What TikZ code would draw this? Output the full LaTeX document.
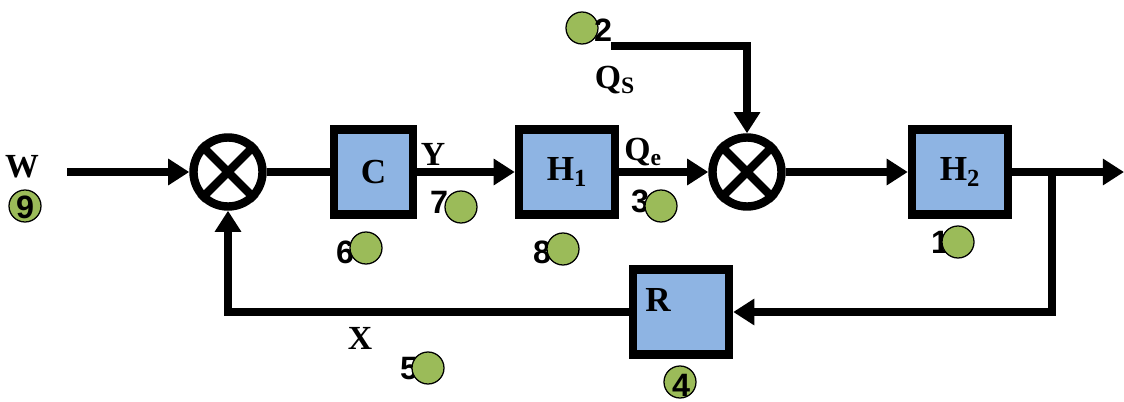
\documentclass[tikz,border=0pt]{standalone}
\usepackage{fontspec}
\setmainfont{Liberation Serif}
\setsansfont{Liberation Sans}
\usetikzlibrary{arrows.meta, positioning, calc}
\definecolor{boxblue}{HTML}{8EB4E3}
\definecolor{dotgreen}{HTML}{9BBB59}

\tikzset{
  block/.style={draw, fill=boxblue, line width=6pt, minimum width=2.4cm, minimum height=2.125cm, inner sep=0pt, font=\fontsize{25}{28}\selectfont\bfseries},
  sumjunc/.style={draw, circle, line width=6pt, minimum size=1.725cm, inner sep=0pt},
  sig/.style={line width=5pt, -{Triangle[length=15pt,width=18pt]}},
  lbl/.style={font=\fontsize{24}{27}\selectfont\bfseries, inner sep=0pt},
  numdot/.style={circle, draw, fill=dotgreen, line width=0.9pt, minimum size=0.8cm, inner sep=0pt},
  numtxt/.style={font=\sffamily\bfseries\fontsize{23}{25}\selectfont, inner sep=0pt},
}

\begin{document}
\begin{tikzpicture}[x=0.025cm, y=-0.025cm]
  \useasboundingbox (0,0) rectangle (1124,401);

  % blocks and summing points
  \node[sumjunc] (sum1) at (228,172) {};
  \node[block, minimum width=1.975cm] (C) at (373.5,172) {C};
  \node[block] (H1) at (567,172) {H\textsubscript{1}};
  \node[sumjunc] (sum2) at (747,172) {};
  \node[block] (H2) at (960,172) {H\textsubscript{2}};
  \node[block] (R) at (681,312) {};
  \node[lbl, font=\fontsize{25}{28}\selectfont\bfseries] (Rtxt) at (658,300) {R};

  \foreach \s in {sum1, sum2} {
    \draw[line width=6pt] (\s.north east) -- (\s.south west);
    \draw[line width=6pt] (\s.north west) -- (\s.south east);
  }

  % free ends
  \coordinate (win) at (67,172);
  \coordinate (qsin) at (611,46);
  \coordinate (out) at (1124,172);
  \coordinate (branch) at (1052,172);

  % signals
  \draw[sig] (win) -- (sum1.west);
  \draw[line width=5pt] (sum1.east) -- (C.west);
  \draw[sig] (C.east) -- (H1.west);
  \draw[sig] (H1.east) -- (sum2.west);
  \draw[sig] (qsin) -| (sum2.north);
  \draw[sig] (sum2.east) -- (H2.west);
  \draw[sig] (H2.east) -- (out);
  \draw[sig] (branch) |- (R.east);
  \draw[sig] (R.west) -| (sum1.south);

  % signal names
  \node[lbl] (Wtxt) at (22,167) {W};
  \node[lbl] (Ytxt) at (433,154) {Y};
  \node[lbl] (Qetxt) at (643,152) {Q\textsubscript{e}};
  \node[lbl] (Qstxt) at (615,80) {Q\textsubscript{S}};
  \node[lbl] (Xtxt) at (360,338) {X};

  % numbered points
  \node[numdot] (d9) at (25,206) {};
  \node[numtxt] (n9) at (25,207) {9};
  \node[numdot] (d2) at (582,28) {};
  \node[numtxt] (n2) at (603,30) {2};
  \node[numtxt] (n6) at (345,252) {6};
  \node[numdot] (d6) at (366,248) {};
  \node[numtxt] (n7) at (439,202) {7};
  \node[numdot] (d7) at (461,207) {};
  \node[numtxt] (n8) at (542,252) {8};
  \node[numdot] (d8) at (563,249) {};
  \node[numtxt] (n3) at (640,201) {3};
  \node[numdot] (d3) at (661,206) {};
  \node[numtxt] (n1) at (940,242) {1};
  \node[numdot] (d1) at (958,242) {};
  \node[numtxt] (n5) at (409,369) {5};
  \node[numdot] (d5) at (428,368) {};
  \node[numdot] (d4) at (680,382) {};
  \node[numtxt] (n4) at (681,385) {4};
\end{tikzpicture}
\end{document}
